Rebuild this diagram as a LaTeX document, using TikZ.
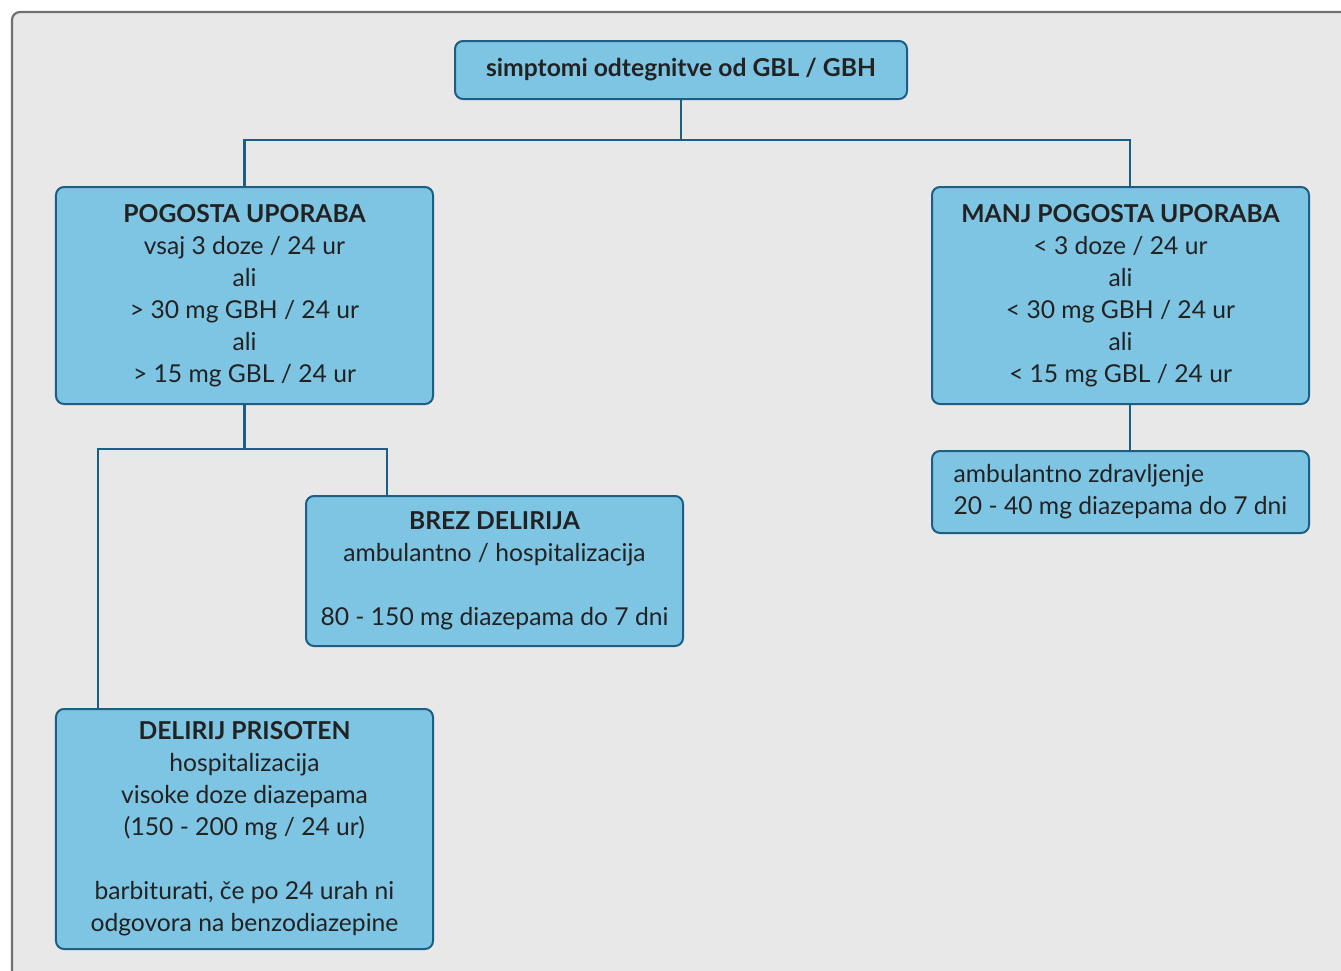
\documentclass[tikz,border=0pt]{standalone}
\usepackage{fontspec}
\setmainfont{Lato}
\usetikzlibrary{calc}
\definecolor{bgfill}{HTML}{E8E8E8}
\definecolor{bgline}{HTML}{707070}
\definecolor{boxfill}{HTML}{7EC4E3}
\definecolor{boxline}{HTML}{1D5E85}
\definecolor{txt}{HTML}{222222}
\newlength\refw
\begin{document}
\settowidth\refw{\fontsize{10pt}{12pt}\selectfont 80 - 150 mg diazepama do 7 dni}%
\pgfmathsetmacro\fsz{10*349.27/\refw}%
\begin{tikzpicture}[x=1bp,y=-1bp]
\tikzset{
  box/.style={draw=boxline, fill=boxfill, line width=2bp, rounded corners=8bp,
    inner sep=0pt, outer sep=0pt, minimum width=377bp, text=txt,
    font={\fontsize{\fsz pt}{32bp}\selectfont}},
  conn/.style={draw=boxline, line width=2.2bp}
}
\useasboundingbox (0,0) rectangle (1341,970);
\clip (0,0) rectangle (1341,970);
\draw[fill=bgfill, draw=bgline, line width=2.2bp, rounded corners=8bp] (12,12) rectangle (1380,1010);

\node[box, minimum width=452bp, minimum height=58bp, align=center] (top) at (681,70)
  {\bfseries simptomi odtegnitve od GBL / GBH};
\node[box, minimum height=217bp, align=center] (pog) at (244.5,295.5)
  {\bfseries POGOSTA UPORABA\\vsaj 3 doze / 24 ur\\ali\\> 30 mg GBH / 24 ur\\ali\\> 15 mg GBL / 24 ur};
\node[box, minimum height=217bp, align=center] (manj) at (1120.5,295.5)
  {\bfseries MANJ POGOSTA UPORABA\\< 3 doze / 24 ur\\ali\\< 30 mg GBH / 24 ur\\ali\\< 15 mg GBL / 24 ur};
\node[box, minimum height=82bp, align=left] (amb) at (1120.5,492)
  {ambulantno zdravljenje\\20 - 40 mg diazepama do 7 dni};
\node[box, minimum height=150bp, align=center] (brez) at (494.5,571)
  {\textbf{BREZ DELIRIJA}\\ambulantno / hospitalizacija\\[32bp]80 - 150 mg diazepama do 7 dni};
\node[box, minimum height=240bp, align=center] (del) at (244.5,829)
  {\textbf{DELIRIJ PRISOTEN}\\hospitalizacija\\visoke doze diazepama\\(150 - 200 mg / 24 ur)\\[32bp]barbiturati, če po 24 urah ni\\odgovora na benzodiazepine};

\coordinate (k) at ($(top.south)+(0,41)$);
\draw[conn] (top.south) -- (k);
\draw[conn] (pog.north) |- (k) -| ($(manj.north)+(9.5,0)$);
\draw[conn] ($(manj.south)+(9.5,0)$) -- ($(amb.north)+(9.5,0)$);
\coordinate (j) at ($(pog.south)+(0,45)$);
\draw[conn] (pog.south) -- (j);
\draw[conn] ($(del.north west)+(42,0)$) |- (j) -| ($(brez.north west)+(81,0)$);
\end{tikzpicture}
\end{document}
